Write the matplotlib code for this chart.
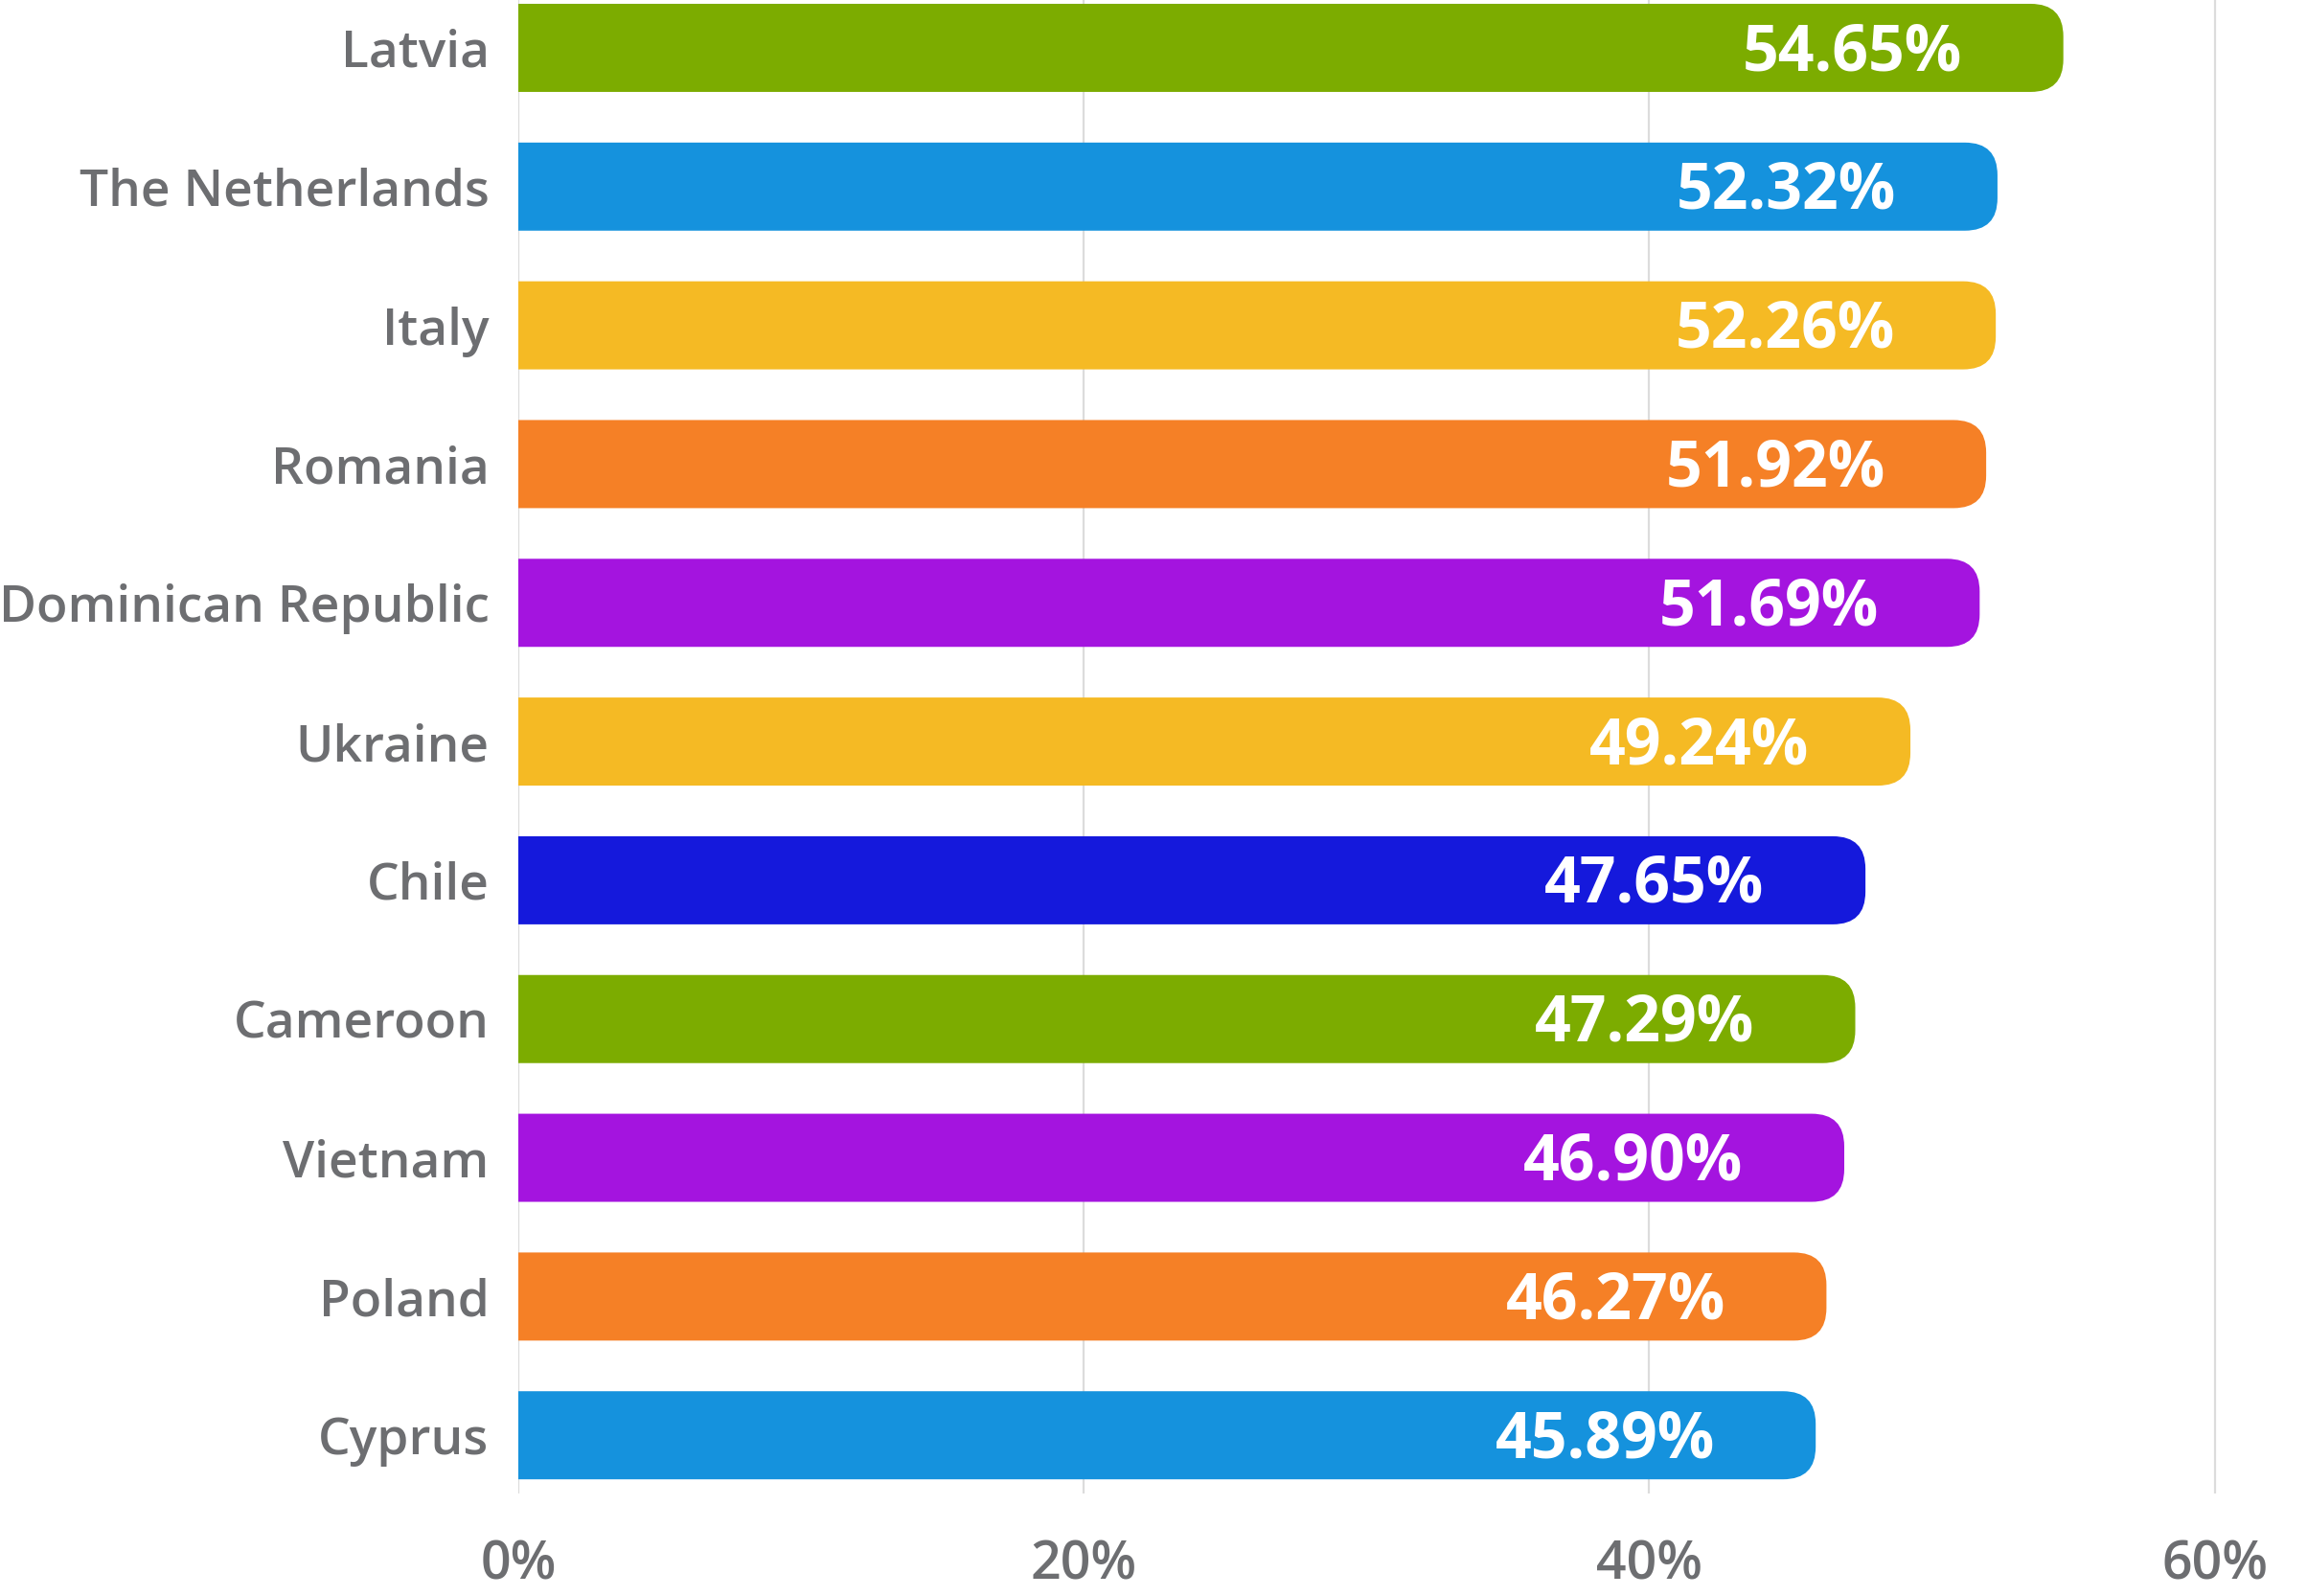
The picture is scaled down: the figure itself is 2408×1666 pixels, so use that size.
import matplotlib.pyplot as plt
from matplotlib.patches import FancyBboxPatch

# data
countries = ['Latvia', 'The Netherlands', 'Italy', 'Romania', 'Dominican Republic',
             'Ukraine', 'Chile', 'Cameroon', 'Vietnam', 'Poland', 'Cyprus']
values = [54.65, 52.32, 52.26, 51.92, 51.69, 49.24, 47.65, 47.29, 46.90, 46.27, 45.89]
colors = ['#7cac00', '#1592dd', '#f5ba24', '#f58026', '#a414df', '#f5ba24',
          '#1519dc', '#7cac00', '#a414df', '#f58026', '#1592dd']
ticks = [0, 20, 40, 60]
tick_labels = ['0%', '20%', '40%', '60%']

grey = '#6d6e71'
font = ['Open Sans', 'DejaVu Sans']

fig = plt.figure(figsize=(12.04, 8.33), dpi=200)
ax = fig.add_axes([0.2247, 0.0642, 0.7475, 0.9358])

pos = list(range(len(countries)))
bars = ax.barh(pos, values, height=0.635, color=colors)

ax.set_xlim(0, 61)
ax.set_ylim(10.42, -0.345)

# rounded right ends: swap every rectangle for a round box, left part is clipped by the axes
fig.canvas.draw()
bb = ax.get_window_extent()
px_x = bb.width / 61.0
px_y = bb.height / (10.42 + 0.345)
radius_px = 34
r = radius_px / px_x
asp = px_x / px_y
for b in bars:
    x, y, w, h = b.get_x(), b.get_y(), b.get_width(), b.get_height()
    b.set_visible(False)
    box = FancyBboxPatch((x - 3 * r, y), w + 3 * r, h,
                         boxstyle=f'round,pad=0,rounding_size={r}',
                         mutation_aspect=asp, fc=b.get_facecolor(), ec='none', zorder=2)
    ax.add_patch(box)

# value labels inside the bars
for i, v in enumerate(values):
    ax.annotate(f'{v:.2f}%', (v, i), xytext=(-38, -2), textcoords='offset points',
                ha='right', va='center', color='white', fontsize=23.8,
                fontweight='bold', family=font, zorder=3)

ax.set_yticks(pos)
ax.set_yticklabels(countries, family=font, fontsize=19.2, fontweight='semibold', color=grey)
ax.set_xticks(ticks)
ax.set_xticklabels(tick_labels, family=font, fontsize=20, fontweight='semibold', color=grey)
ax.tick_params(axis='y', length=0, pad=11)
ax.tick_params(axis='x', length=0, pad=17)

ax.grid(axis='x', color='#dcdcdc', linewidth=0.8, zorder=0)
ax.set_axisbelow(True)
for s in ax.spines.values():
    s.set_visible(False)

fig.savefig('out.png', dpi=200)
